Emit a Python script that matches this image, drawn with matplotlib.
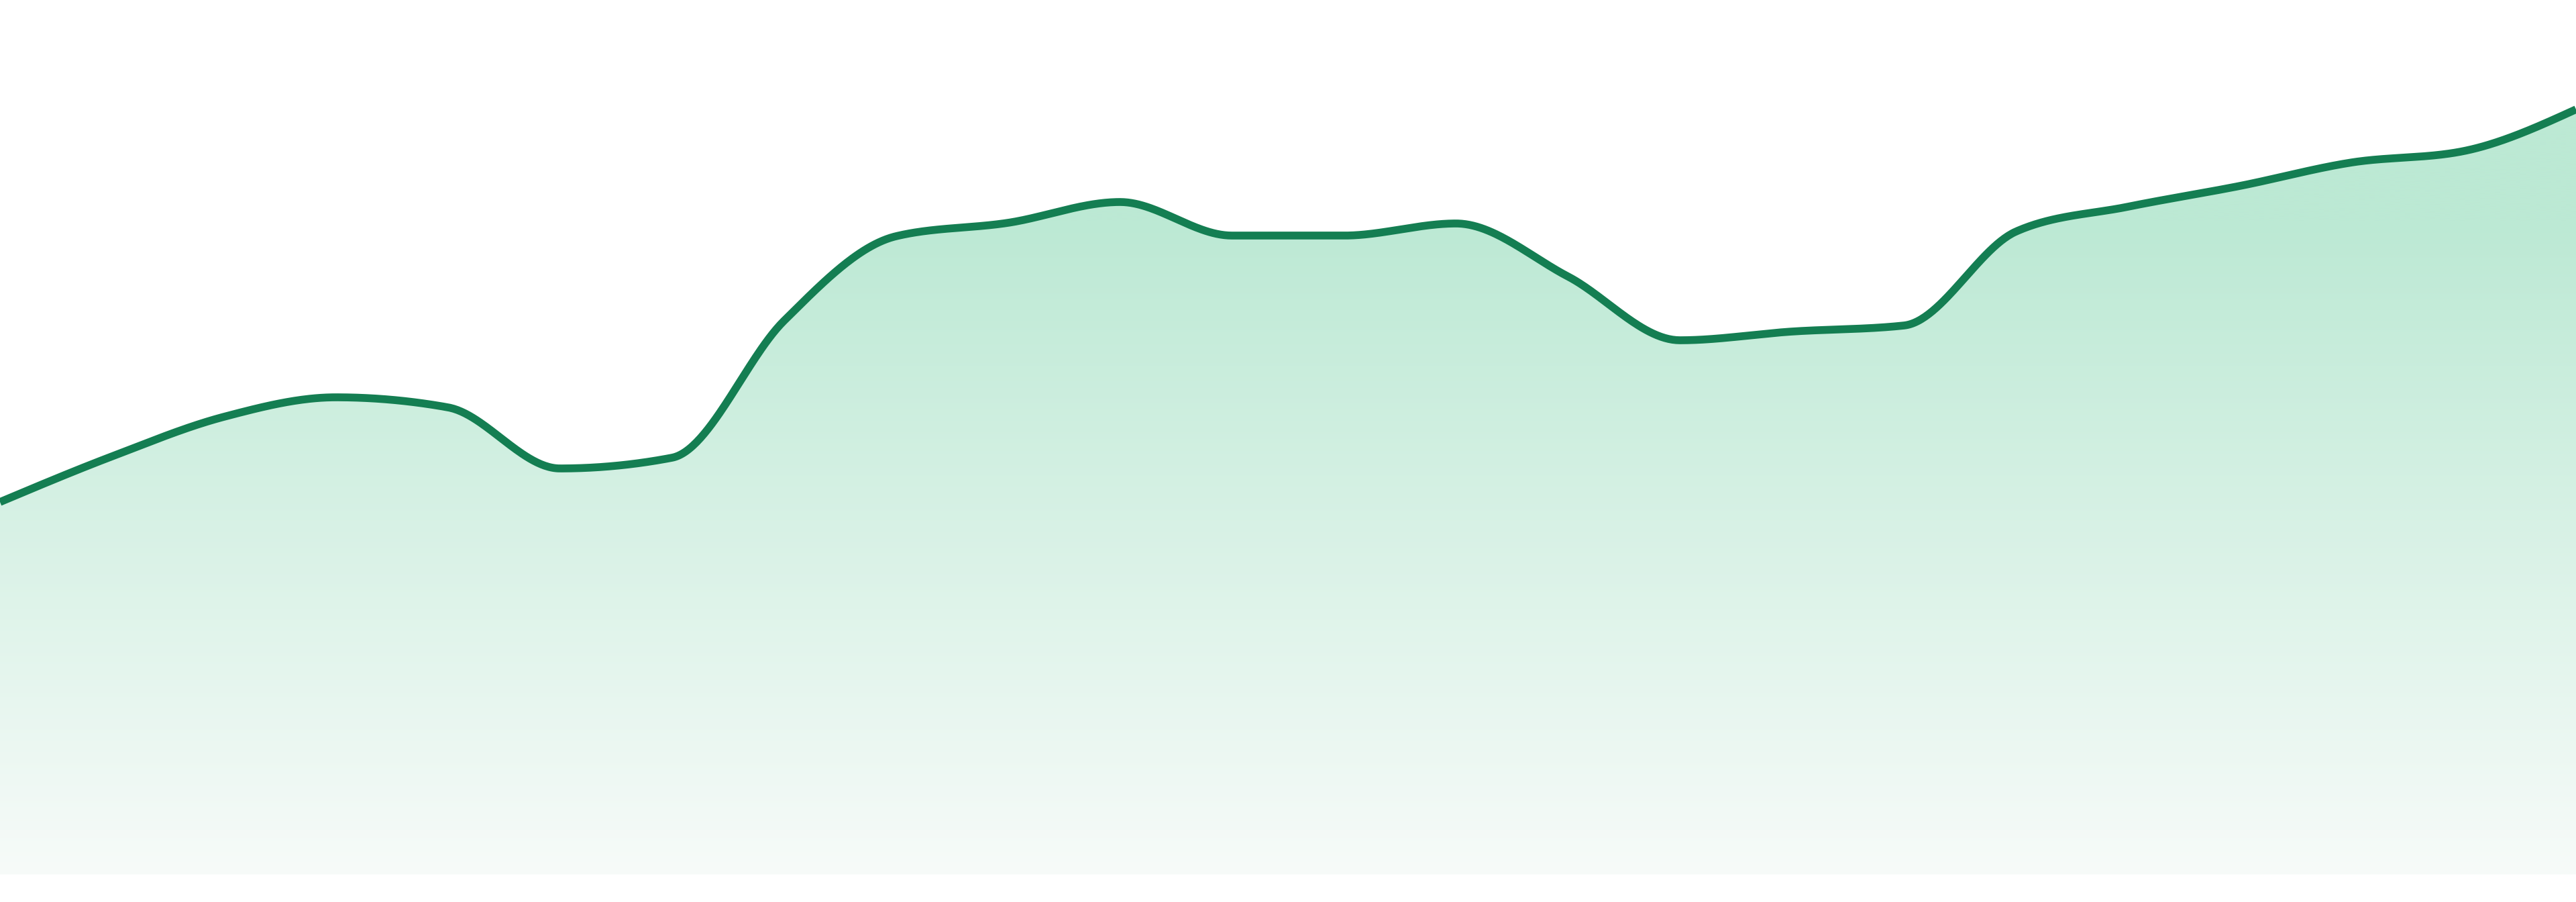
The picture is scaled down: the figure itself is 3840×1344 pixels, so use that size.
import numpy as np
import matplotlib
matplotlib.use("Agg")
import matplotlib.pyplot as plt

# values (24 evenly spaced points, no axes shown)
points = np.arange(24)
values = [55.5, 62.3, 68.2, 71.1, 69.6, 60.5, 62.1, 82.5, 95.1, 97.1, 100.2, 95.2,
          95.2, 97.0, 89.1, 79.6, 80.9, 81.8, 95.8, 99.5, 102.6, 106.1, 107.8, 114.0]

line_color = "#147e52"
fill_top = np.array([188, 233, 212]) / 255.0
fill_bottom = np.array([247, 251, 249]) / 255.0


def monotone_x(x, y, n=60):
    # same idea as d3.curveMonotoneX
    x = np.asarray(x, float)
    y = np.asarray(y, float)
    h = np.diff(x)
    s = np.diff(y) / h
    t = np.zeros_like(y)
    for i in range(1, len(y) - 1):
        s0, s1 = s[i - 1], s[i]
        p = (s0 * h[i] + s1 * h[i - 1]) / (h[i - 1] + h[i])
        t[i] = (np.sign(s0) + np.sign(s1)) * min(abs(s0), abs(s1), 0.5 * abs(p))
    t[0] = (3 * s[0] - t[1]) / 2
    t[-1] = (3 * s[-1] - t[-2]) / 2
    xs, ys = [], []
    u = np.linspace(0, 1, n)
    for i in range(len(x) - 1):
        dx = h[i] / 3
        px = [x[i], x[i] + dx, x[i + 1] - dx, x[i + 1]]
        py = [y[i], y[i] + dx * t[i], y[i + 1] - dx * t[i + 1], y[i + 1]]
        b = [(1 - u) ** 3, 3 * u * (1 - u) ** 2, 3 * u ** 2 * (1 - u), u ** 3]
        xs.append(sum(bb * pp for bb, pp in zip(b, px)))
        ys.append(sum(bb * pp for bb, pp in zip(b, py)))
    return np.concatenate(xs), np.concatenate(ys)


xs, ys = monotone_x(points, values)

fig = plt.figure(figsize=(38.4, 13.44), dpi=100)
ax = fig.add_axes([0, 0, 1, 1])
ax.set_xlim(points[0], points[-1])
ax.set_ylim(-4.1, 130.3)
ax.axis("off")

# gradient fill under the curve
poly = ax.fill_between(xs, ys, 0, facecolor="none", edgecolor="none")
solid_from = 97.3
rows = np.linspace(0, 130.3, 600)
frac = np.clip(rows / solid_from, 0, 1)[:, None]
grad = fill_bottom + (fill_top - fill_bottom) * frac
img = ax.imshow(grad[:, None, :].repeat(2, axis=1), extent=[points[0], points[-1], 0, 130.3],
                origin="lower", aspect="auto", interpolation="bilinear", zorder=1)
img.set_clip_path(poly.get_paths()[0], transform=ax.transData)

ax.plot(xs, ys, color=line_color, lw=8.4, solid_capstyle="butt", zorder=3)

fig.savefig("out.png", dpi=100, facecolor="white")
